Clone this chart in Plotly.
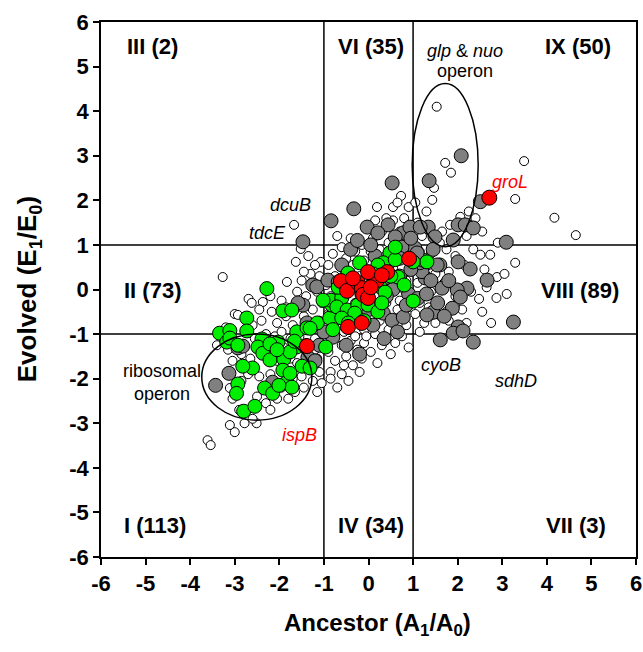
import plotly.graph_objects as go

# ---------------- data (Ancestor A1/A0 , Evolved E1/E0) ----------------
white_pts = [
    (-3.61,-3.38),(-3.54,-3.49),(-3.27,0.28),(-3.11,-3.04),(-3.00,-3.20),(-3.11,-2.21),(-3.05,-2.45),
    (-3.30,-1.05),(-3.20,-0.85),(-3.05,-1.60),(-3.00,-0.55),(-3.15,-1.35),(-3.40,-1.25),
    (-2.93,-0.57),(-2.69,-0.21),(-2.62,-0.30),(-2.37,-0.28),(-2.17,-0.50),(-2.51,-3.00),(-2.78,-3.00),
    (-2.60,-2.90),(-2.85,-2.05),(-2.50,-2.40),(-2.30,-2.55),(-2.20,-2.70),(-2.05,-2.45),(-2.40,-0.70),
    (-2.60,-0.80),(-2.85,-1.45),(-2.65,-1.55),(-2.45,-1.95),(-2.20,-1.90),(-2.10,-1.05),(-2.30,-1.00),
    (-2.05,-0.75),(-2.50,-1.25),(-2.15,-2.20),(-2.70,-1.90),(-2.90,-2.70),(-2.45,-0.45),(-2.20,-0.15),
    (-2.55,-1.10),(-2.05,-1.60),
    (-1.83,0.17),(-1.67,1.45),(-1.52,0.91),(-1.63,0.62),(-1.07,0.62),(-1.30,0.35),(-1.50,0.20),
    (-1.25,0.10),(-1.15,-0.05),(-1.40,-0.15),(-1.60,-0.30),(-1.85,-0.60),(-1.70,-0.80),(-1.45,-0.60),
    (-1.25,-0.45),(-1.10,-0.70),(-1.30,-0.90),(-1.55,-1.05),(-1.75,-1.10),(-1.95,-0.95),(-1.20,-1.10),
    (-1.05,-1.30),(-1.15,-1.55),(-1.30,-1.75),(-1.50,-1.95),(-1.65,-2.30),(-1.80,-2.45),(-1.95,-2.20),
    (-1.45,-2.20),(-1.10,-1.85),(-1.25,-2.05),(-1.05,-2.10),(-1.90,-1.75),(-1.75,-1.55),(-1.35,-1.45),
    (-1.60,-0.05),(-1.95,-0.25),(-1.10,0.30),(-1.20,0.55),(-1.45,0.40),(-1.85,-0.40),(-1.05,-0.30),
    (-1.35,0.75),(-1.90,-1.30),(-1.60,-1.65),(-1.20,-1.35),(-1.40,-1.20),(-1.70,-2.00),(-1.15,-2.30),
    (-0.60,0.95),(-0.80,0.80),(-0.50,0.70),(-0.30,0.85),(-0.90,0.55),(-0.75,0.30),(-0.95,0.10),
    (-0.85,-0.15),(-0.65,-0.35),(-0.90,-0.55),(-0.70,-0.70),(-0.95,-0.85),(-0.55,-0.95),(-0.80,-1.10),
    (-0.60,-1.25),(-0.40,-1.15),(-0.25,-1.35),(-0.50,-1.50),(-0.75,-1.60),(-0.90,-1.40),(-0.35,-1.70),
    (-0.15,-1.55),(-0.60,-1.90),(-0.85,-1.85),(-0.30,-1.05),(-0.10,-1.20),(-0.45,-0.45),(-0.20,-0.60),
    (-0.55,0.45),(-0.35,0.55),(-0.20,0.30),(-0.10,0.65),(-0.40,1.15),(-0.70,1.20),(-0.15,1.00),
    (-0.95,-1.15),(-0.30,-0.30),(-0.65,0.05),(-0.10,-0.90),(-0.45,-2.05),(-0.70,-2.20),
    (-0.85,-2.00),(-0.20,-1.85),(-0.55,-1.70),(-0.05,-1.05),
    (0.19,1.85),(0.73,2.10),(0.30,1.30),(0.55,1.55),(0.80,1.60),(0.10,1.15),(0.45,1.05),(0.70,1.30),
    (0.90,1.85),(0.25,0.90),(0.60,0.85),(0.85,1.10),(0.10,0.45),(0.35,0.60),(0.75,0.50),(0.20,0.05),
    (0.50,0.10),(0.85,0.20),(0.10,-0.35),(0.40,-0.30),(0.70,-0.25),(0.95,-0.40),(0.25,-0.70),
    (0.60,-0.65),(0.85,-0.80),(0.15,-1.00),(0.45,-0.90),(0.75,-1.05),(0.30,-1.25),(0.60,-1.20),
    (0.90,-1.30),(0.05,-1.40),(0.50,-1.45),(0.20,-1.65),(0.80,0.00),(0.95,0.85),(0.05,0.85),
    (0.65,-0.45),(0.35,-0.05),(0.55,1.85),(0.40,1.60),(0.15,1.55),(0.65,1.95),
    (1.53,4.10),(1.72,2.84),(1.85,2.62),(1.47,2.28),(1.43,2.01),(2.06,1.63),(1.83,1.45),(1.65,1.30),
    (1.10,1.50),(1.30,1.75),(1.20,1.20),(1.05,1.95),(1.60,1.05),(1.90,1.15),(1.15,0.85),(1.40,0.80),
    (1.75,0.90),(1.95,0.75),(1.20,0.45),(1.50,0.35),(1.80,0.40),(1.10,0.15),(1.40,-0.05),(1.70,0.15),
    (1.95,-0.15),(1.15,-0.30),(1.35,-0.40),(1.60,-0.30),(1.75,-0.50),(1.25,-0.75),(1.50,-0.75),
    (1.05,-0.55),(1.80,-0.70),(1.15,-0.95),(1.95,-0.35),(1.35,0.55),(1.05,0.60),
    (3.49,2.88),(3.29,2.03),(4.17,1.61),(4.65,1.22),(2.51,0.78),(2.73,0.78),(3.29,0.60),(2.88,0.28),
    (2.87,-0.19),(2.48,-0.21),(2.35,0.90),(2.55,1.30),(2.40,1.60),(2.20,1.20),(2.90,1.05),(2.15,0.55),
    (2.60,0.45),(2.30,-0.05),(2.10,-0.45),(2.55,-0.50),(2.75,-0.75),(2.20,-0.75),(3.10,-0.10),
    (2.25,1.75),(3.05,0.35),(2.65,0.05),
]

gray_pts = [
    (2.08,3.00),(2.51,1.97),(0.53,2.39),(1.36,2.44),(-0.33,1.81),(-0.84,1.54),(-1.47,1.07),(-0.03,1.40),
    (3.09,1.06),(2.66,0.21),(3.25,-0.73),(2.28,0.46),(2.01,0.62),(2.21,0.03),(1.99,-0.01),(2.06,-0.17),
    (1.88,-0.42),(1.45,-0.51),(1.31,-0.57),(2.01,-0.84),(1.90,-0.98),(2.12,-0.93),(1.61,-1.13),
    (2.35,-1.18),(1.65,0.03),(1.27,0.26),(1.20,0.40),(2.01,1.45),(2.17,1.45),(2.35,1.38),(1.34,1.40),
    (1.49,1.18),(1.90,1.11),(1.15,0.60),(1.04,0.93),(1.60,0.55),(1.45,0.90),(1.54,0.55),(1.22,0.66),
    (0.44,1.45),(0.21,1.27),(0.78,1.27),(0.60,1.18),(0.93,1.40),(1.16,1.40),(1.09,0.82),
    (0.33,-0.53),(0.53,-0.69),(0.78,-0.62),(0.10,-0.80),(-1.25,0.10),(-1.38,-0.75),(-0.80,-1.07),
    (-1.47,-0.35),(-1.16,0.06),(-0.91,0.21),(-0.68,0.17),(-1.58,-0.30),
    (-2.93,-1.31),(-3.13,-1.88),(-3.43,-2.15),(-2.15,-2.08),(-1.36,-1.52),(-2.82,-1.27),(-1.20,-1.60),
    (-1.10,-1.25),(-1.00,-0.95),
    (-0.50,-1.25),(0.35,-1.10),(-0.20,-1.45),(0.70,0.30),(0.90,-0.10),(0.55,0.00),(0.30,0.20),
    (0.95,0.45),(-0.60,0.55),(-0.40,0.90),(0.75,0.95),(0.15,0.75),(0.45,0.60),(-0.80,-0.30),
    (0.00,-0.45),(0.85,-0.35),(0.40,-0.15),(1.10,-0.20),(1.30,-0.10),(1.70,-0.60),(1.55,-0.30),
    (0.95,1.15),(0.70,0.70),(1.80,0.20),(1.40,0.20),(0.65,-0.95),(-0.25,1.10),(0.05,1.00),
]

green_pts = [
    (-2.28,0.02),(-1.92,-0.48),(-1.72,-0.46),(-2.73,-0.64),(-3.34,-0.98),(-3.11,-0.92),(-2.73,-0.93),
    (-3.18,-1.18),(-2.39,-1.11),(-2.48,-1.29),(-2.37,-1.43),(-2.21,-1.58),(-2.60,-1.76),(-2.93,-2.12),
    (-2.96,-2.33),(-2.33,-2.21),(-2.15,-2.33),(-2.80,-2.73),(-2.55,-2.62),(-1.90,-1.56),(-1.92,-1.81),
    (-1.83,-2.08),(-1.72,-2.19),(-1.49,-1.72),(-1.31,-1.76),(-1.61,-1.29),(-1.76,-1.40),(-2.03,-1.18),
    (-2.21,-1.22),(-3.11,-1.09),(-2.93,-1.25),(-2.82,-1.72),(-2.01,-2.15),(-1.76,-1.88),(-1.61,-0.95),
    (-1.38,-0.86),(-1.15,-0.75),(-0.87,-0.64),(-0.82,-0.35),(-0.96,-1.29),(-1.66,-1.16),(-2.05,-1.35),
    (0.48,0.82),(0.33,0.60),(0.60,0.67),(0.66,0.28),(0.21,0.55),(0.08,0.10),(0.26,0.06),(0.37,-0.06),
    (-0.46,0.37),(-0.33,0.15),(-0.84,-0.24),(-1.02,-0.24),(-0.60,-0.19),(-0.71,-0.39),(-0.48,-0.46),
    (-0.24,-0.35),(-0.01,-0.35),(-0.31,-0.53),(-0.60,-0.64),(0.21,-0.50),(1.00,-0.26),(-1.31,-0.87),
    (1.31,0.62),(0.80,0.10),(-0.15,-0.10),(0.10,0.35),(0.50,0.30),(-0.20,0.60),(-0.68,0.05),
    (-0.45,-0.75),(0.30,-0.30),(0.60,0.95),(-0.80,-0.90),(-0.10,-0.70),(1.00,0.62),
]

red_pts = [
    (2.71,2.06),(-1.38,-1.27),(0.91,0.69),(0.42,0.39),(0.19,0.21),(-0.01,0.39),(-0.62,0.19),
    (-0.48,-0.03),(-0.24,0.15),(-0.15,0.03),(-0.12,-0.12),(-0.01,-0.19),(-0.46,-0.84),(-0.15,-0.75),
    (0.05,0.05),(-0.35,0.25),(0.30,0.32),
]

region_labels = ["III (2)", "VI (35)", "IX (50)", "II (73)", "VIII (89)", "I (113)", "IV (34)", "VII (3)"]
region_x = [-4.85, 0.06, 4.7, -4.85, 4.75, -4.8, 0.06, 4.66]
region_y = [5.45, 5.45, 5.45, -0.03, -0.03, -5.29, -5.29, -5.29]

tick_vals = list(range(-6, 7))
cut_low, cut_high = -1, 1


def unzip(pts):
    return [p[0] for p in pts], [p[1] for p in pts]


fig = go.Figure()
for pts, size, fill in [(white_pts, 9, "white"), (gray_pts, 14, "#808080"),
                        (green_pts, 14, "#00ee00"), (red_pts, 15, "#ff0000")]:
    xs, ys = unzip(pts)
    fig.add_trace(go.Scatter(x=xs, y=ys, mode="markers", showlegend=False, hoverinfo="skip",
                             marker=dict(size=size, color=fill,
                                         line=dict(color="black", width=1))))

# quadrant lines
for v in (cut_low, cut_high):
    fig.add_shape(type="line", x0=v, x1=v, y0=-6, y1=6, line=dict(color="black", width=1.5), layer="below")
    fig.add_shape(type="line", x0=-6, x1=6, y0=v, y1=v, line=dict(color="black", width=1.5), layer="below")

# ellipses
fig.add_shape(type="circle", x0=0.98, x1=2.46, y0=0.96, y1=4.62, line=dict(color="black", width=1.5))
fig.add_shape(type="circle", x0=-3.74, x1=-1.27, y0=-2.93, y1=-1.0, line=dict(color="black", width=1.5))

BOLD = "Liberation Sans"
for t, x, y in zip(region_labels, region_x, region_y):
    fig.add_annotation(x=x, y=y, text=f"<b>{t}</b>", showarrow=False,
                       font=dict(family=BOLD, size=22, color="black"))

notes = [
    ("<i>dcuB</i>", -1.76, 1.90, "black"),
    ("<i>tdcE</i>", -2.26, 1.27, "black"),
    ("<i>glp</i> & <i>nuo</i>", 2.17, 5.34, "black"),
    ("operon", 2.17, 4.89, "black"),
    ("<i>groL</i>", 3.18, 2.42, "red"),
    ("ribosomal", -4.64, -1.83, "black"),
    ("operon", -4.64, -2.35, "black"),
    ("<i>ispB</i>", -1.54, -3.27, "red"),
    ("<i>cyoB</i>", 1.63, -1.70, "black"),
    ("<i>sdhD</i>", 3.31, -2.06, "black"),
]
for t, x, y, c in notes:
    fig.add_annotation(x=x, y=y, text=t, showarrow=False, font=dict(family=BOLD, size=18, color=c))

fig.add_annotation(xref="paper", yref="paper", x=0.516, y=-0.127, text="<b>Ancestor (A<sub>1</sub>/A<sub>0</sub>)</b>",
                   showarrow=False, font=dict(family=BOLD, size=24, color="black"), yanchor="middle")
fig.add_annotation(xref="paper", yref="paper", x=-0.135, y=0.5, text="<b>Evolved (E<sub>1</sub>/E<sub>0</sub>)</b>",
                   showarrow=False, textangle=-90, font=dict(family=BOLD, size=26, color="black"), xanchor="center")

axis_common = dict(range=[-6, 6], tickvals=tick_vals, ticktext=[f"<b>{v}</b>" for v in tick_vals],
                   showgrid=False, zeroline=False, showline=True, linecolor="black", linewidth=1.5,
                   mirror=True, ticks="outside", ticklen=6, tickcolor="black", tickwidth=1.5,
                   automargin=False, ticklabeloverflow="allow",
                   tickfont=dict(family=BOLD, size=22, color="black"))
fig.update_xaxes(**axis_common)
fig.update_yaxes(**axis_common)

fig.update_layout(width=643, height=652, margin=dict(l=101, r=7, t=22, b=95),
                  plot_bgcolor="white", paper_bgcolor="white", hovermode=False)

# remove the default page margin so the figure fills the window exactly
fig.write_html("out.html", config={"displayModeBar": False},
               post_script="document.body.style.margin='0';document.body.style.overflow='hidden';")
